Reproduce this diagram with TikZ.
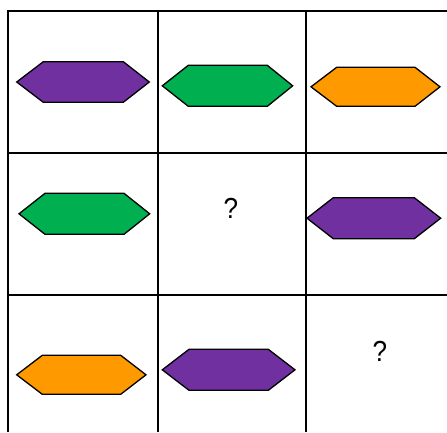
\documentclass[tikz,border=0pt]{standalone}
\usepackage{fontspec}
\setmainfont{Liberation Sans}
\definecolor{hpurple}{HTML}{7030A0}
\definecolor{hgreen}{HTML}{00B050}
\definecolor{horange}{HTML}{FF9900}
\tikzset{
  gridline/.style={line width=2pt, black},
  hexshape/.style={draw=black, line width=1.3pt, line join=miter},
  qmark/.style={inner sep=0pt, xscale=0.9, font=\fontsize{29}{32}\selectfont},
}
\newcommand{\hexa}[7]{%
  \path[hexshape, fill=#7] (#1,{(#5+#6)/2}) -- (#2,#5) -- (#3,#5) -- (#4,{(#5+#6)/2}) -- (#3,#6) -- (#2,#6) -- cycle;}
\begin{document}
\begin{tikzpicture}[x=1pt,y=-1pt]
\useasboundingbox (0,0) rectangle (447,432);
\fill[white] (0,0) rectangle (447,432);
% grid
\draw[gridline] (8,11) -- (447,11);
\draw[gridline] (8,153) -- (447,153);
\draw[gridline] (8,294.5) -- (447,294.5);
\draw[gridline] (8.3,10) -- (8.3,432);
\draw[gridline] (157.5,10) -- (157.5,432);
\draw[gridline] (305.8,10) -- (305.8,432);
% row 1
\hexa{16.7}{43.3}{123.3}{149.3}{61.7}{102.3}{hpurple}
\hexa{162.3}{188.3}{267.3}{292.7}{65.3}{106.3}{hgreen}
\hexa{311}{336.7}{415}{440}{67.3}{106.3}{horange}
% row 2
\hexa{19}{45}{124}{149.7}{193.3}{234.3}{hgreen}
\node[qmark] (q1) at (231,208.5) {?};
\hexa{307}{333.3}{414.3}{440.7}{197.7}{238.7}{hpurple}
% row 3
\hexa{16.7}{42.3}{120.7}{146}{355.3}{394.3}{horange}
\hexa{162.3}{189}{268.3}{295}{349.3}{390.3}{hpurple}
\node[qmark] (q2) at (380,351) {?};
\end{tikzpicture}
\end{document}
